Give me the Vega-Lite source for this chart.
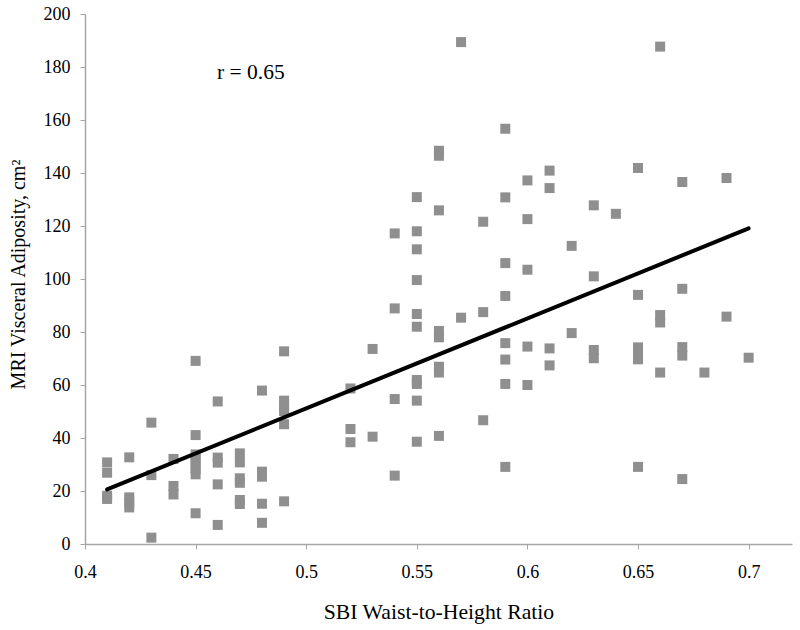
{
  "$schema": "https://vega.github.io/schema/vega-lite/v6.json",
  "width": 707,
  "height": 530,
  "autosize": "none",
  "padding": {"left": 85, "top": 14, "right": 8, "bottom": 86},
  "background": "white",
  "config": {
    "view": {"stroke": null},
    "font": "Liberation Serif",
    "axis": {"grid": false, "domainColor": "#a6a6a6", "tickColor": "#a6a6a6", "labelColor": "#000000", "titleColor": "#000000", "labelFont": "Liberation Serif", "titleFont": "Liberation Serif", "labelFontSize": 18, "titleFontWeight": "normal", "tickSize": 5, "domainWidth": 1.5}
  },
  "datasets": {
    "points": [
      {"x":0.41,"y":30.8},{"x":0.41,"y":26.9},{"x":0.41,"y":18.2},{"x":0.41,"y":17.0},
      {"x":0.42,"y":32.7},{"x":0.42,"y":17.6},{"x":0.42,"y":15.7},{"x":0.42,"y":13.8},
      {"x":0.43,"y":45.8},{"x":0.43,"y":26.0},{"x":0.43,"y":2.4},
      {"x":0.44,"y":32.1},{"x":0.44,"y":21.9},{"x":0.44,"y":18.7},
      {"x":0.45,"y":69.1},{"x":0.45,"y":41.1},{"x":0.45,"y":33.8},{"x":0.45,"y":32.0},{"x":0.45,"y":30.1},{"x":0.45,"y":28.2},{"x":0.45,"y":26.3},{"x":0.45,"y":11.6},
      {"x":0.46,"y":53.8},{"x":0.46,"y":32.6},{"x":0.46,"y":30.7},{"x":0.46,"y":22.5},{"x":0.46,"y":7.2},
      {"x":0.47,"y":34.2},{"x":0.47,"y":30.8},{"x":0.47,"y":24.8},{"x":0.47,"y":23.1},{"x":0.47,"y":16.6},{"x":0.47,"y":15.1},
      {"x":0.48,"y":57.9},{"x":0.48,"y":27.3},{"x":0.48,"y":25.4},{"x":0.48,"y":15.2},{"x":0.48,"y":8.0},
      {"x":0.49,"y":72.7},{"x":0.49,"y":54.1},{"x":0.49,"y":52.1},{"x":0.49,"y":50.2},{"x":0.49,"y":45.2},{"x":0.49,"y":16.1},
      {"x":0.52,"y":58.7},{"x":0.52,"y":43.4},{"x":0.52,"y":38.4},
      {"x":0.53,"y":73.6},{"x":0.53,"y":40.5},
      {"x":0.54,"y":117.2},{"x":0.54,"y":88.9},{"x":0.54,"y":54.7},{"x":0.54,"y":25.8},
      {"x":0.55,"y":130.9},{"x":0.55,"y":118.0},{"x":0.55,"y":111.2},{"x":0.55,"y":99.6},{"x":0.55,"y":86.8},{"x":0.55,"y":82.0},{"x":0.55,"y":61.9},{"x":0.55,"y":60.4},{"x":0.55,"y":54.1},{"x":0.55,"y":38.6},
      {"x":0.56,"y":148.4},{"x":0.56,"y":146.5},{"x":0.56,"y":125.9},{"x":0.56,"y":80.4},{"x":0.56,"y":78.0},{"x":0.56,"y":66.9},{"x":0.56,"y":64.7},{"x":0.56,"y":40.8},
      {"x":0.57,"y":189.4},{"x":0.57,"y":85.4},
      {"x":0.58,"y":121.6},{"x":0.58,"y":87.5},{"x":0.58,"y":46.7},
      {"x":0.59,"y":156.7},{"x":0.59,"y":130.8},{"x":0.59,"y":106.0},{"x":0.59,"y":93.6},{"x":0.59,"y":75.8},{"x":0.59,"y":69.6},{"x":0.59,"y":60.4},{"x":0.59,"y":29.1},
      {"x":0.60,"y":137.2},{"x":0.60,"y":122.6},{"x":0.60,"y":103.5},{"x":0.60,"y":74.5},{"x":0.60,"y":60.0},
      {"x":0.61,"y":140.9},{"x":0.61,"y":134.3},{"x":0.61,"y":73.8},{"x":0.61,"y":67.4},
      {"x":0.62,"y":112.5},{"x":0.62,"y":79.6},
      {"x":0.63,"y":127.8},{"x":0.63,"y":101.0},{"x":0.63,"y":73.2},{"x":0.63,"y":70.1},
      {"x":0.64,"y":124.6},
      {"x":0.65,"y":141.9},{"x":0.65,"y":94.0},{"x":0.65,"y":74.2},{"x":0.65,"y":72.0},{"x":0.65,"y":69.7},{"x":0.65,"y":29.1},
      {"x":0.66,"y":187.7},{"x":0.66,"y":86.4},{"x":0.66,"y":83.6},{"x":0.66,"y":64.7},
      {"x":0.67,"y":136.6},{"x":0.67,"y":96.3},{"x":0.67,"y":74.3},{"x":0.67,"y":71.1},{"x":0.67,"y":24.5},
      {"x":0.68,"y":64.7},
      {"x":0.69,"y":138.1},{"x":0.69,"y":85.8},
      {"x":0.70,"y":70.3}
    ],
    "fit": [{"x":0.41,"y":20.6},{"x":0.70,"y":119.1}],
    "label": [{"x":0.475,"y":177.7,"t":"r = 0.65"}]
  },
  "layer": [
    {
      "data": {"name": "points"},
      "mark": {"type": "point", "shape": "square", "filled": true, "size": 100, "color": "#8f8f8f", "opacity": 1},
      "encoding": {
        "x": {"field": "x", "type": "quantitative", "scale": {"domain": [0.4, 0.7196], "nice": false, "zero": false},
              "axis": {"values": [0.4, 0.45, 0.5, 0.55, 0.6, 0.65, 0.7], "format": "~g", "title": "SBI Waist-to-Height Ratio", "titleFontSize": 21.7, "labelPadding": 14, "titlePadding": 20, "labelFlush": false}},
        "y": {"field": "y", "type": "quantitative", "scale": {"domain": [0, 200], "nice": false},
              "axis": {"values": [0, 20, 40, 60, 80, 100, 120, 140, 160, 180, 200], "title": "MRI Visceral Adiposity, cm²", "titleFontSize": 20, "titleY": 260, "labelPadding": 10, "titlePadding": 15}}
      }
    },
    {
      "data": {"name": "fit"},
      "mark": {"type": "line", "color": "#000000", "strokeWidth": 4, "strokeCap": "round"},
      "encoding": {
        "x": {"field": "x", "type": "quantitative"},
        "y": {"field": "y", "type": "quantitative"}
      }
    },
    {
      "data": {"name": "label"},
      "mark": {"type": "text", "font": "Liberation Serif", "fontSize": 21.5, "color": "#000000", "align": "center", "baseline": "middle"},
      "encoding": {
        "x": {"field": "x", "type": "quantitative"},
        "y": {"field": "y", "type": "quantitative"},
        "text": {"field": "t"}
      }
    }
  ]
}
